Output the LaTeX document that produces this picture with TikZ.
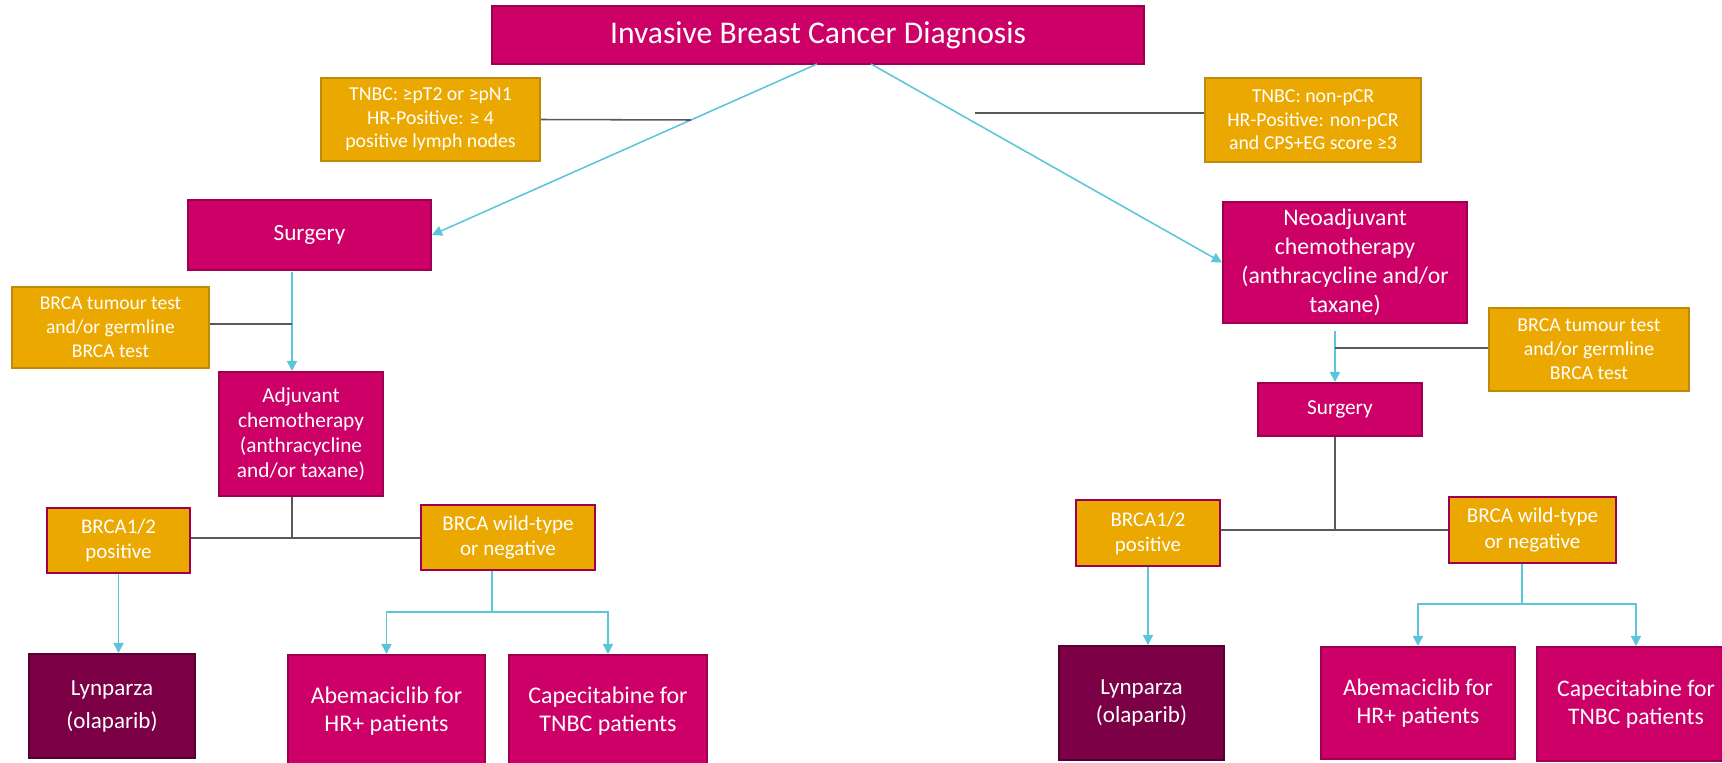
\documentclass[tikz,border=0pt]{standalone}
\usepackage{fontspec}
\setmainfont{Carlito}
\usetikzlibrary{arrows.meta}
\definecolor{mag}{RGB}{204,0,102}
\definecolor{magd}{RGB}{158,0,80}
\definecolor{gold}{RGB}{235,168,0}
\definecolor{goldd}{RGB}{190,138,10}
\definecolor{plum}{RGB}{123,0,70}
\definecolor{plumd}{RGB}{85,0,48}
\definecolor{cyanl}{RGB}{91,197,217}
\definecolor{grayl}{RGB}{89,89,89}
\newcommand\fsz[2]{\fontsize{#1}{#2}\selectfont}
\begin{document}
\begin{tikzpicture}[x=0.4554pt,y=-0.4554pt,
  corners/.style n args={4}{at={({(#1+#3)/2},{(#2+#4)/2})},
     minimum width={(#3-#1)*0.4554pt}, minimum height={(#4-#2)*0.4554pt}},
  base/.style={draw, line width=0.9pt, inner sep=0pt, align=center, text=white},
  magbox/.style={base, fill=mag, draw=magd},
  orbox/.style={base, fill=gold, draw=goldd},
  posbox/.style={base, fill=gold, draw=magd, line width=1pt},
  lynbox/.style={base, fill=plum, draw=plumd},
  cyl/.style={draw=cyanl, line width=0.7pt},
  cya/.style={cyl, -{Triangle[width=4.6pt,length=4.6pt]}},
  gry/.style={draw=grayl, line width=0.7pt}]
\useasboundingbox (0,0) rectangle (1722,763);

% top
\node[magbox, corners={492}{6}{1144}{64}, font=\fsz{14.4}{17}] (title) {Invasive Breast Cancer Diagnosis};
\node[orbox, corners={321}{78}{540}{161}, font=\fsz{9}{10.7}] (tl) {TNBC: ≥pT2 or ≥pN1\\HR-Positive: ≥ 4\\positive lymph nodes};
\node[orbox, corners={1205}{78}{1421}{162}, font=\fsz{9}{10.7}] (tr) {TNBC: non-pCR\\HR-Positive: non-pCR\\and CPS+EG score ≥3};

% left branch
\node[magbox, corners={188}{200}{431}{270}, font=\fsz{10.6}{13}] (surgL) {Surgery};
\node[orbox, corners={12}{287}{209}{368}, font=\fsz{8.9}{10.9}] (testL) {BRCA tumour test\\and/or germline\\BRCA test};
\node[magbox, corners={219}{372}{383}{496}, font=\fsz{9.7}{11.5}] (adj) {Adjuvant\\chemotherapy\\(anthracycline\\and/or taxane)};
\node[posbox, corners={47}{508}{190}{573}, font=\fsz{9.5}{11.4}] (posL) {BRCA1/2\\positive};
\node[posbox, corners={421}{505}{595}{570}, font=\fsz{9.6}{11.7}] (wildL) {BRCA wild-type\\or negative};
\node[lynbox, corners={29}{654}{195}{758}, font=\fsz{10.5}{15}] (lynL) {Lynparza\\(olaparib)};
\node[magbox, corners={288}{655}{485}{768}, font=\fsz{10.9}{12.8}] (abeL) {Abemaciclib for\\HR+ patients};
\node[magbox, corners={509}{655}{707}{768}, font=\fsz{10.9}{12.8}] (capL) {Capecitabine for\\TNBC patients};

% right branch
\node[magbox, corners={1223}{202}{1467}{323}, font=\fsz{10.8}{13.1}] (neo) {Neoadjuvant\\chemotherapy\\(anthracycline and/or\\taxane)};
\node[orbox, corners={1489}{308}{1689}{391}, font=\fsz{9}{10.9}] (testR) {BRCA tumour test\\and/or germline\\BRCA test};
\node[magbox, corners={1258}{383}{1422}{436}, font=\fsz{9.7}{12}] (surgR) {Surgery};
\node[posbox, corners={1076}{500}{1220}{566}, font=\fsz{9.5}{11.4}] (posR) {BRCA1/2\\positive};
\node[posbox, corners={1449}{497}{1616}{563}, font=\fsz{9.6}{11.7}] (wildR) {BRCA wild-type\\or negative};
\node[lynbox, corners={1059}{646}{1224}{760}, font=\fsz{10.5}{12.9}] (lynR) {Lynparza\\(olaparib)};
\node[magbox, corners={1321}{647}{1515}{759}, font=\fsz{10.8}{12.9}] (abeR) {Abemaciclib for\\HR+ patients};
\node[magbox, corners={1537}{647}{1735}{761}, font=\fsz{10.8}{12.9}] (capR) {Capecitabine for\\TNBC patients};

% connectors top
\coordinate (t1) at (817,64);
\coordinate (t2) at (871,64);
\draw[cya] (t1) -- (surgL.east);
\draw[cya] (t2) -- (neo.west);
\coordinate (j1) at (691,120);
\draw[gry] (tl.east) -- (j1);
\coordinate (j2) at (975,113);
\draw[gry] (j2) -- (j2 -| tr.west);

% connectors left
\coordinate (a1) at (292,272);
\draw[cya] (a1) -- (a1 |- adj.north);
\coordinate (a2) at (292,324);
\draw[gry] (a2) -- (a2 -| testL.east);
\coordinate (a3) at (292,538);
\draw[gry] (a3 |- adj.south) -- (a3);
\draw[gry] (a3 -| posL.east) -- (a3 -| wildL.west);
\draw[cya] (posL.south) -- (posL.south |- lynL.north);
\coordinate (a4) at (492,612);
\draw[cyl] (a4 |- wildL.south) -- (a4);
\draw[cya] (a4) -| (abeL.north);
\draw[cya] (a4) -| (capL.north);

% connectors right
\coordinate (b1) at (1335,331);
\draw[cya] (b1) -- (b1 |- surgR.north);
\coordinate (b2) at (1335,348);
\draw[gry] (b2) -- (b2 -| testR.west);
\coordinate (b3) at (1335,530);
\draw[gry] (b3 |- surgR.south) -- (b3);
\draw[gry] (b3 -| posR.east) -- (b3 -| wildR.west);
\draw[cya] (posR.south) -- (posR.south |- lynR.north);
\coordinate (b4) at (1522,604);
\draw[cyl] (b4 |- wildR.south) -- (b4);
\draw[cya] (b4) -| (abeR.north);
\draw[cya] (b4) -| (capR.north);
\end{tikzpicture}
\end{document}
